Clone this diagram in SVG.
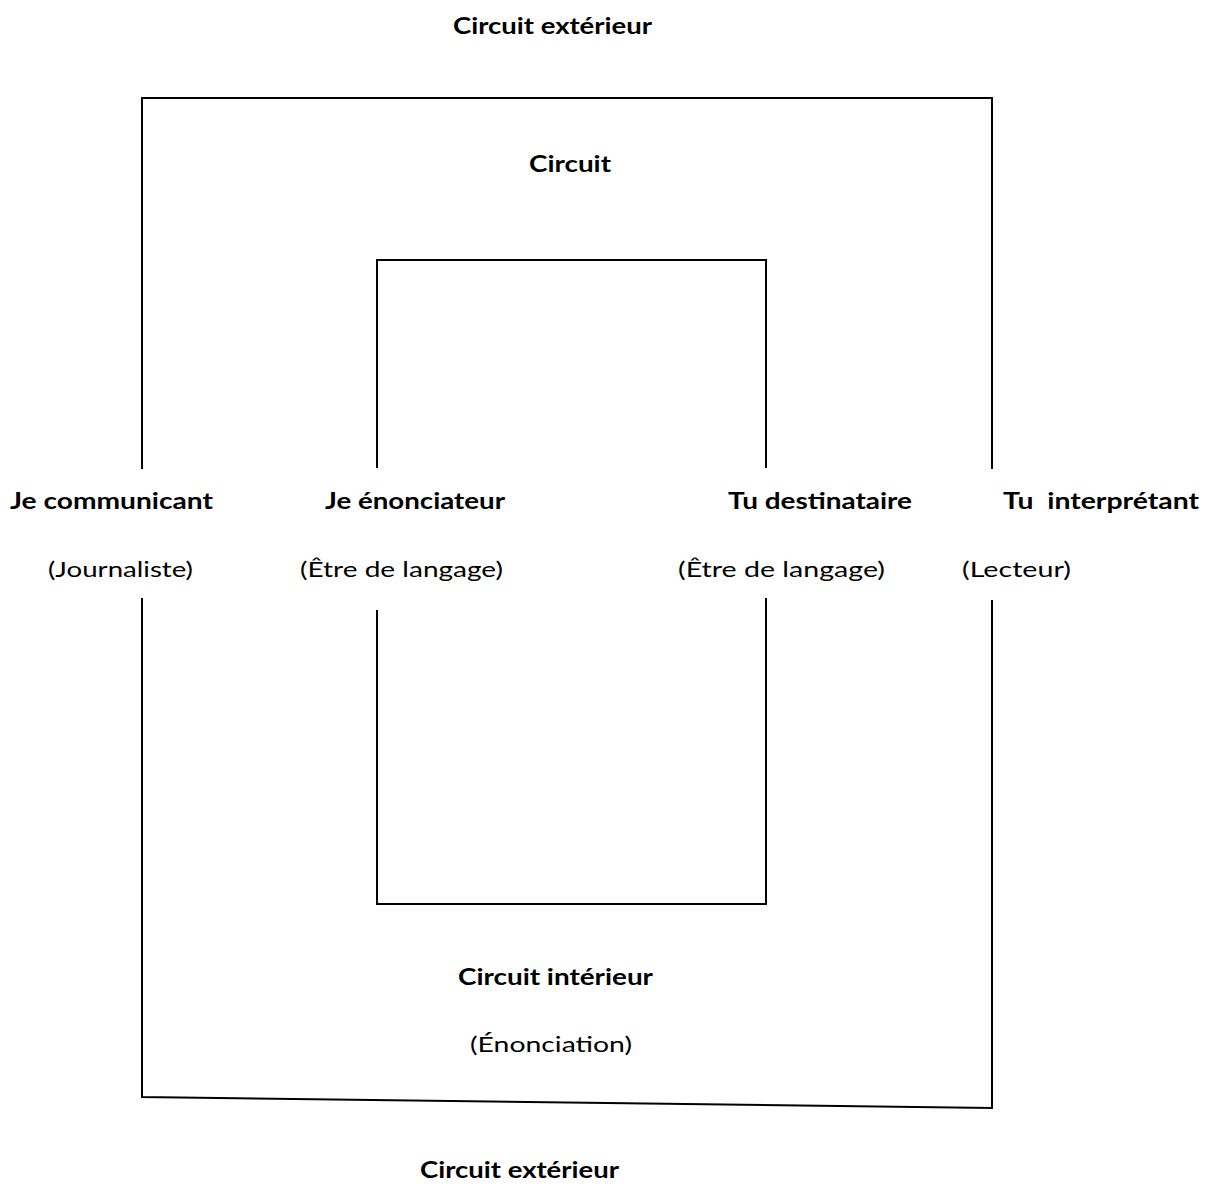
<svg xmlns="http://www.w3.org/2000/svg" width="1208" height="1194" viewBox="0 0 1208 1194">
<style>
.t{font-family:Lato,"Open Sans","Liberation Sans",sans-serif;font-size:22px;fill:#000}
.b{font-weight:bold}
.ln{stroke:#000;stroke-width:2;fill:none}
</style>
<rect width="1208" height="1194" fill="#fff"/>
<g id="connectors">
<path class="ln" d="M142,469 V98 H992 V469"/>
<path class="ln" d="M142,598 V1097 L992,1108 V600"/>
<path class="ln" d="M377,468 V260 H766 V468"/>
<path class="ln" d="M377,610 V904 H766 V598"/>
</g>
<g id="title-top"><text class="t b" x="453" y="34" textLength="199" lengthAdjust="spacingAndGlyphs">Circuit extérieur</text></g>
<g id="circuit"><text class="t b" x="529" y="172" textLength="82" lengthAdjust="spacingAndGlyphs">Circuit</text></g>
<g id="je-communicant">
<text class="t b" x="10" y="509" textLength="203" lengthAdjust="spacingAndGlyphs">Je communicant</text>
<text class="t" x="48" y="577" textLength="145" lengthAdjust="spacingAndGlyphs">(Journaliste)</text>
</g>
<g id="je-enonciateur">
<text class="t b" x="325" y="509" textLength="180" lengthAdjust="spacingAndGlyphs">Je énonciateur</text>
<text class="t" x="300" y="577" textLength="203" lengthAdjust="spacingAndGlyphs">(Être de langage)</text>
</g>
<g id="tu-destinataire">
<text class="t b" x="728" y="509" textLength="184" lengthAdjust="spacingAndGlyphs">Tu destinataire</text>
<text class="t" x="678" y="577" textLength="207" lengthAdjust="spacingAndGlyphs">(Être de langage)</text>
</g>
<g id="tu-interpretant">
<text class="t b" x="1003" y="509" textLength="196" lengthAdjust="spacingAndGlyphs" xml:space="preserve">Tu  interprétant</text>
<text class="t" x="962" y="577" textLength="109" lengthAdjust="spacingAndGlyphs">(Lecteur)</text>
</g>
<g id="circuit-interieur">
<text class="t b" x="458" y="985" textLength="195" lengthAdjust="spacingAndGlyphs">Circuit intérieur</text>
<text class="t" x="470" y="1052" textLength="162" lengthAdjust="spacingAndGlyphs">(Énonciation)</text>
</g>
<g id="title-bottom"><text class="t b" x="420" y="1178" textLength="199" lengthAdjust="spacingAndGlyphs">Circuit extérieur</text></g>
</svg>
